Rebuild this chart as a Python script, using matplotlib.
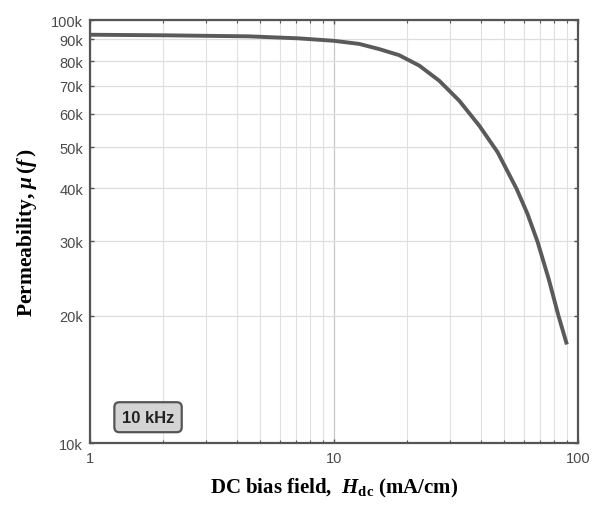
import numpy as np
import matplotlib
matplotlib.use("Agg")
import matplotlib.pyplot as plt
from matplotlib.ticker import FixedLocator, FuncFormatter, LogLocator, NullFormatter

# DC bias field (mA/cm) and permeability at 10 kHz
h_dc = [1, 2.09, 2.78, 4.47, 7.17, 10, 12.7, 15.3, 18.5, 22.4, 27.0, 32.7,
        39.5, 46.9, 56.1, 62.2, 68.4, 76.0, 83.5, 90.2]
mu = [92300, 92000, 91800, 91500, 90500, 89300, 87800, 85400, 82600, 78000,
      71900, 64400, 56200, 48700, 39900, 34800, 29900, 24400, 19900, 17100]

y_ticks = [10000, 20000, 30000, 40000, 50000, 60000, 70000, 80000, 90000, 100000]
x_ticks = [1, 10, 100]
freq_label = "10 kHz"

plt.rcParams["mathtext.fontset"] = "custom"
plt.rcParams["mathtext.rm"] = "Liberation Serif:bold"
plt.rcParams["mathtext.it"] = "Liberation Serif:italic:bold"
plt.rcParams["mathtext.bf"] = "Liberation Serif:bold"

fig = plt.figure(figsize=(6.0, 5.1), dpi=100)
ax = fig.add_axes([0.15, 0.1294, 0.813, 0.8294])

ax.plot(h_dc, mu, color="#5a5a5a", lw=2.8, solid_capstyle="butt",
        solid_joinstyle="round", zorder=3)

ax.set_xscale("log")
ax.set_yscale("log")
ax.set_xlim(1, 100)
ax.set_ylim(10000, 100000)

ax.xaxis.set_major_locator(FixedLocator(x_ticks))
ax.xaxis.set_major_formatter(FuncFormatter(lambda v, p: f"{v:g}"))
ax.xaxis.set_minor_locator(LogLocator(base=10, subs=np.arange(2, 10)))
ax.xaxis.set_minor_formatter(NullFormatter())

ax.yaxis.set_major_locator(FixedLocator(y_ticks))
ax.yaxis.set_major_formatter(FuncFormatter(lambda v, p: f"{int(round(v / 1000))}k"))
ax.yaxis.set_minor_locator(FixedLocator([]))
ax.yaxis.set_minor_formatter(NullFormatter())

ax.grid(True, which="major", axis="x", color="#c8c8c8", lw=0.9)
ax.grid(True, which="minor", axis="x", color="#e0e0e0", lw=0.8)
ax.grid(True, which="major", axis="y", color="#dedede", lw=0.9)
ax.set_axisbelow(True)

for side in ax.spines.values():
    side.set_color("#555555")
    side.set_linewidth(1.6)

ax.tick_params(which="both", direction="in", top=True, right=True,
               color="#555555", labelcolor="#4a4a4a", labelsize=10.5)
ax.tick_params(which="major", length=3, width=1)
ax.tick_params(which="minor", length=2.5, width=0.8)
for lab in ax.get_xticklabels() + ax.get_yticklabels():
    lab.set_family("Liberation Sans")
ax.tick_params(axis="x", pad=6)
ax.tick_params(axis="y", pad=5)

ax.set_xlabel(r"DC bias field,  $H_{\mathrm{dc}}$ (mA/cm)",
              family="Liberation Serif", weight="bold", fontsize=15, labelpad=8)
ax.set_ylabel(r"Permeability, $\mu\,(f\,)$",
              family="Liberation Serif", weight="bold", fontsize=15.5, labelpad=9)

ax.text(0.119, 0.061, freq_label, transform=ax.transAxes, ha="center", va="center",
        family="Liberation Sans", weight="bold", fontsize=12, color="#222222",
        bbox=dict(boxstyle="round,pad=0.45,rounding_size=0.3", fc="#d4d4d4",
                  ec="#555555", lw=1.6))

fig.savefig("out.png", dpi=100, facecolor="white")
